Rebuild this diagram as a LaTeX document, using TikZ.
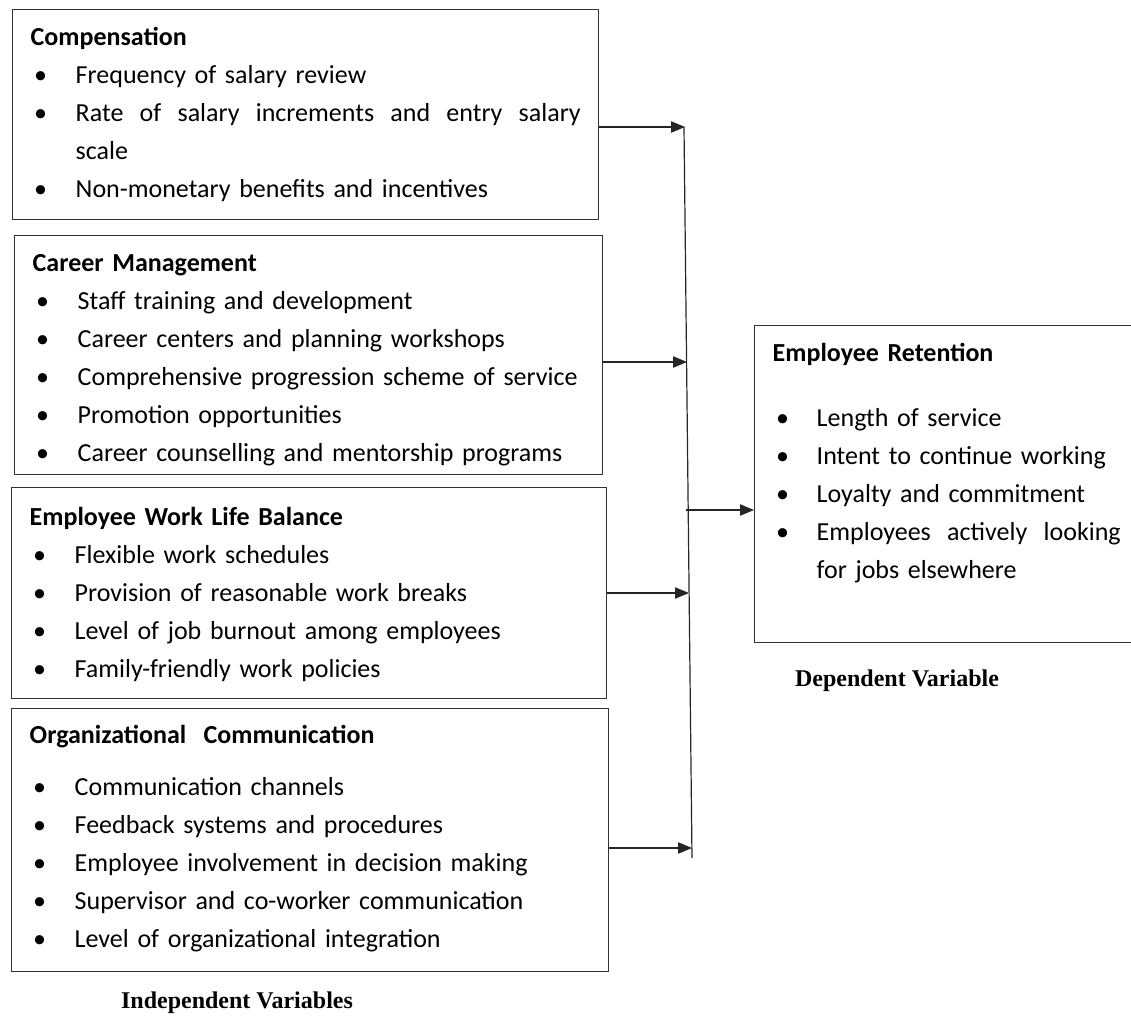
\documentclass[tikz,border=0pt]{standalone}
\usepackage{fontspec}
\usepackage{array}
\setmainfont{Carlito}
\newfontfamily\labelfont{Liberation Serif}
\usetikzlibrary{arrows.meta}
\newcolumntype{J}[1]{>{\rightskip=0pt\parfillskip=0pt plus 1fil\spaceskip=.3333em plus .3em}p{#1}}
\newcommand{\boxtitle}[1]{\multicolumn{2}{@{}l@{}}{\textbf{#1}}}
\newcommand{\bul}{\hspace{2.5pt}\textbullet}

\begin{document}
\begin{tikzpicture}[x=0.75pt,y=-0.75pt,
  varbox/.style={draw=black!80, line width=1.1pt, anchor=north west, inner xsep=13.5pt, inner ysep=0pt,
    align=left, font=\fontsize{19.5pt}{28.5pt}\selectfont},
  varlabel/.style={font=\labelfont\bfseries\fontsize{18pt}{20pt}\selectfont},
  spine/.style={line width=0.9pt, black!85},
  link/.style={line width=0.9pt, black!85, -{Triangle[length=10.5pt,width=8.5pt]}}]
\useasboundingbox (0,0) rectangle (1131,1019);

\node[varbox, text width=412.5pt, text height=27pt, text depth=130.5pt] (compensation) at (12,9) {%
\begin{tabular}[t]{@{}p{33.75pt}@{}J{378.75pt}@{}}
\boxtitle{Compensation}\\
\bul & Frequency of salary review\\
\bul & Rate of salary increments and entry salary scale\\
\bul & Non-monetary benefits and incentives
\end{tabular}};

\node[varbox, text width=414pt, text height=27pt, text depth=152.25pt] (career) at (14,235) {%
\begin{tabular}[t]{@{}p{33.75pt}@{}J{380.25pt}@{}}
\boxtitle{Career Management}\\
\bul & Staff training and development\\
\bul & Career centers and planning workshops\\
\bul & Comprehensive progression scheme of service\\
\bul & Promotion opportunities\\
\bul & Career counselling and mentorship programs
\end{tabular}};

\node[varbox, text width=419.25pt, text height=28.5pt, text depth=129.75pt] (balance) at (11,487) {%
\begin{tabular}[t]{@{}p{33.75pt}@{}J{385.5pt}@{}}
\boxtitle{Employee Work Life Balance}\\
\bul & Flexible work schedules\\
\bul & Provision of reasonable work breaks\\
\bul & Level of job burnout among employees\\
\bul & Family-friendly work policies
\end{tabular}};

\node[varbox, text width=420.75pt, text height=26.25pt, text depth=171pt] (communication) at (11,708) {%
\begin{tabular}[t]{@{}p{33.75pt}@{}J{387pt}@{}}
\boxtitle{Organizational\ \ Communication}\\[10.5pt]
\bul & Communication channels\\
\bul & Feedback systems and procedures\\
\bul & Employee involvement in decision making\\
\bul & Supervisor and co-worker communication\\
\bul & Level of organizational integration
\end{tabular}};

\node[varbox, text width=261pt, text height=27pt, text depth=210.75pt] (retention) at (754,325) {%
\begin{tabular}[t]{@{}p{33pt}@{}J{228pt}@{}}
\boxtitle{Employee Retention}\\[20.25pt]
\bul & Length of service\\
\bul & Intent to continue working\\
\bul & Loyalty and commitment\\
\bul & Employees actively looking for jobs elsewhere
\end{tabular}};

\node[varlabel] (depLabel) at (897,681) {Dependent Variable};
\node[varlabel] (indepLabel) at (237,1003) {Independent Variables};

% joining line and arrows
\coordinate (spineTop) at (684,127);
\coordinate (spineBot) at (692,858);
\coordinate (compIn) at (685,127);
\coordinate (careerIn) at (687,362);
\coordinate (balanceIn) at (689,593);
\coordinate (commIn) at (692,848);
\coordinate (spineOut) at (686,510);

\draw[spine] (spineTop) -- (spineBot);
\draw[link] (compensation.east |- compIn) -- (compIn);
\draw[link] (career.east |- careerIn) -- (careerIn);
\draw[link] (balance.east |- balanceIn) -- (balanceIn);
\draw[link] (communication.east |- commIn) -- (commIn);
\draw[link] (spineOut) -- (spineOut -| retention.west);
\end{tikzpicture}
\end{document}
